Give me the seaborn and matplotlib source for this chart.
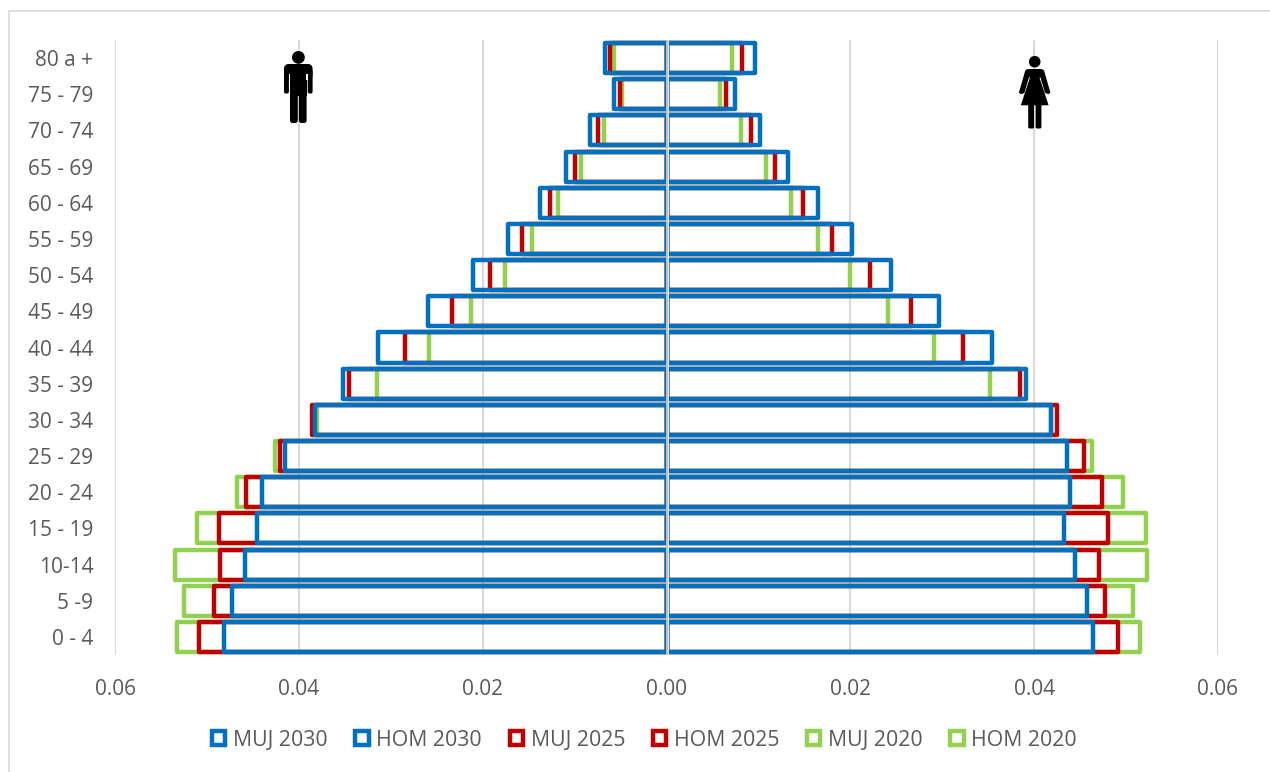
import matplotlib
matplotlib.use("Agg")
import matplotlib.pyplot as plt
import pandas as pd
import seaborn as sns
from matplotlib.lines import Line2D
from matplotlib.patches import Circle, FancyBboxPatch, Patch, Polygon
from matplotlib.ticker import FuncFormatter

# Population shares by five-year age group, oldest group first
age_groups = ["80 a +", "75 - 79", "70 - 74", "65 - 69", "60 - 64", "55 - 59", "50 - 54", "45 - 49", "40 - 44",
              "35 - 39", "30 - 34", "25 - 29", "20 - 24", "15 - 19", "10-14", "5 -9", "0 - 4"]
hom_2030 = [0.0067, 0.0057, 0.0083, 0.0109, 0.0138, 0.0172, 0.0211, 0.0259, 0.0314,
            0.0352, 0.0382, 0.0415, 0.0440, 0.0445, 0.0459, 0.0473, 0.0481]
hom_2025 = [0.0062, 0.0051, 0.0075, 0.0100, 0.0127, 0.0157, 0.0192, 0.0233, 0.0285,
            0.0345, 0.0386, 0.0420, 0.0457, 0.0487, 0.0486, 0.0492, 0.0509]
hom_2020 = [0.0057, 0.0048, 0.0068, 0.0093, 0.0118, 0.0146, 0.0176, 0.0213, 0.0258,
            0.0315, 0.0380, 0.0426, 0.0467, 0.0511, 0.0535, 0.0525, 0.0533]
muj_2030 = [0.0096, 0.0075, 0.0102, 0.0132, 0.0165, 0.0202, 0.0244, 0.0297, 0.0354,
            0.0391, 0.0418, 0.0436, 0.0439, 0.0433, 0.0444, 0.0457, 0.0464]
muj_2025 = [0.0082, 0.0065, 0.0092, 0.0118, 0.0149, 0.0180, 0.0221, 0.0266, 0.0323,
            0.0385, 0.0425, 0.0454, 0.0474, 0.0480, 0.0471, 0.0477, 0.0491]
muj_2020 = [0.0071, 0.0058, 0.0081, 0.0108, 0.0135, 0.0165, 0.0200, 0.0241, 0.0291,
            0.0352, 0.0418, 0.0463, 0.0497, 0.0522, 0.0523, 0.0508, 0.0515]
x_ticks = [-0.06, -0.04, -0.02, 0.0, 0.02, 0.04, 0.06]

BLUE, RED, GREEN = "#0070C0", "#C00000", "#92D050"
GRID = "#D9D9D9"
INK = "#595959"

sns.set_theme(style="white")
plt.rcParams["font.family"] = ["Open Sans", "DejaVu Sans"]

W, H = 1270, 772
fig = plt.figure(figsize=(W / 100, H / 100), dpi=100, facecolor="white")
ax = fig.add_axes([115 / W, 1 - 655 / H, 1103 / W, 615 / H])

# Drawn oldest projection first so that 2030 sits on top
series = [(hom_2020, -1, GREEN), (muj_2020, 1, GREEN),
          (hom_2025, -1, RED), (muj_2025, 1, RED),
          (hom_2030, -1, BLUE), (muj_2030, 1, BLUE)]
for values, side, colour in series:
    frame = pd.DataFrame({"age": age_groups, "share": [side * v for v in values]})
    sns.barplot(data=frame, x="share", y="age", order=age_groups, orient="h", ax=ax, color=colour,
                fill=False, width=0.83, linewidth=3.2, saturation=1, errorbar=None, zorder=3)
for bar in ax.patches:
    bar.set_joinstyle("round")

ax.set_xlim(-0.06, 0.06)
ax.set_ylim(16.5, -0.5)
ax.set_xlabel("")
ax.set_ylabel("")
ax.set_xticks(x_ticks)
ax.xaxis.set_major_formatter(FuncFormatter(lambda v, _: f"{abs(v):.2f}"))
ax.tick_params(axis="x", length=0, pad=17, labelsize=15, labelcolor=INK)
ax.tick_params(axis="y", length=0, pad=15.5, labelsize=15, labelcolor=INK)
for side in ax.spines.values():
    side.set_visible(False)
ax.set_axisbelow(True)
ax.xaxis.grid(True, color=GRID, linewidth=1.5)
ax.yaxis.grid(False)
ax.axvline(0, color="white", linewidth=1.9, zorder=4)
ax.axvline(0, color="#B4B6BA", linewidth=1.2, zorder=5)

handles = [Patch(facecolor="none", edgecolor=c, linewidth=3.2, joinstyle="round", label=name)
           for name, c in [("MUJ 2030", BLUE), ("HOM 2030", BLUE), ("MUJ 2025", RED),
                           ("HOM 2025", RED), ("MUJ 2020", GREEN), ("HOM 2020", GREEN)]]
fig.legend(handles=handles, ncol=6, loc="center", bbox_to_anchor=(644.5 / W, 1 - 740 / H), frameon=False,
           fontsize=15.3, labelcolor=INK, handlelength=0.63, handleheight=0.63, handletextpad=0.36,
           columnspacing=1.3, borderpad=0, borderaxespad=0)

# Overlay in pixel units for the outer frame and the two figure icons
overlay = fig.add_axes([0, 0, 1, 1], zorder=10)
overlay.set_xlim(0, W)
overlay.set_ylim(H, 0)
overlay.axis("off")
overlay.add_line(Line2D([9, 9, W], [H, 10.5, 10.5], color=GRID, linewidth=1.2))


def rounded(x0, y0, x1, y1, r=1.8):
    return FancyBboxPatch((x0 + r, y0 + r), x1 - x0 - 2 * r, y1 - y0 - 2 * r,
                          boxstyle=f"round,pad={r}", facecolor="black", edgecolor="none")


# Man
overlay.add_patch(Circle((298.4, 57.4), 6.4, facecolor="black", edgecolor="none"))
overlay.add_patch(rounded(284, 64, 312.6, 80, r=5))
overlay.add_patch(rounded(284, 70, 288.9, 93.5))
overlay.add_patch(rounded(307.7, 70, 312.6, 93.5))
overlay.add_patch(Polygon([(290, 68), (306.6, 68), (306.6, 96), (290, 96)], facecolor="black", edgecolor="none"))
overlay.add_patch(Polygon([(288.5, 74), (290.2, 74), (290.2, 80), (288.5, 80)], facecolor="white", edgecolor="none"))
overlay.add_patch(Polygon([(306.4, 74), (308.1, 74), (308.1, 80), (306.4, 80)], facecolor="white", edgecolor="none"))
overlay.add_patch(rounded(290, 90, 297.8, 123, r=2.6))
overlay.add_patch(rounded(298.9, 90, 306.6, 123, r=2.6))

# Woman
overlay.add_patch(Circle((1034.7, 61.7), 5.8, facecolor="black", edgecolor="none"))
overlay.add_patch(Polygon([(1027.5, 69), (1041.7, 69), (1044, 70.5), (1050.4, 92.5), (1048.6, 94.2),
                           (1045, 93), (1040.3, 77), (1039.6, 78), (1048.6, 105.3), (1020.8, 105.3),
                           (1029.8, 78), (1029.1, 77), (1024.3, 93), (1020.7, 94.2), (1018.9, 92.5), (1025.3, 70.5)],
                          facecolor="black", edgecolor="none"))
overlay.add_patch(rounded(1028.2, 102, 1034, 128.5, r=1.5))
overlay.add_patch(rounded(1035.6, 102, 1041.4, 128.5, r=1.5))

fig.savefig("out.png", dpi=100, facecolor="white")
